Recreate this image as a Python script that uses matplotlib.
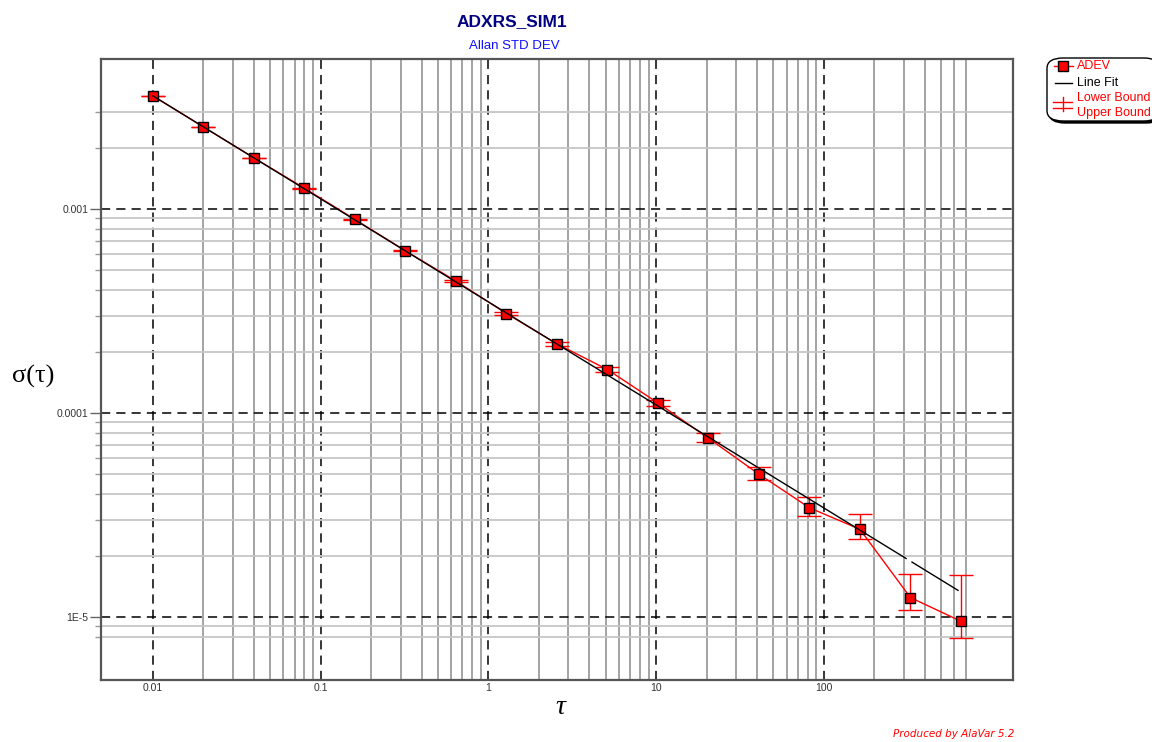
import numpy as np
import matplotlib
matplotlib.use("Agg")
import matplotlib.pyplot as plt
from matplotlib.patches import FancyBboxPatch
from matplotlib.lines import Line2D
from matplotlib.ticker import FixedLocator, NullFormatter

# Dados (ADEV com limites inferior / superior)
tau = [0.01, 0.02, 0.04, 0.08, 0.16, 0.32, 0.64, 1.28, 2.56, 5.12,
       10.24, 20.48, 40.96, 81.92, 163.84, 327.68, 655.36]
adev = [3.58e-3, 2.52e-3, 1.778e-3, 1.263e-3, 8.88e-4, 6.23e-4, 4.43e-4, 3.07e-4, 2.18e-4, 1.632e-4,
        1.119e-4, 7.52e-5, 5.01e-5, 3.43e-5, 2.69e-5, 1.245e-5, 9.53e-6]
lower_bound = [3.576e-3, 2.516e-3, 1.774e-3, 1.259e-3, 8.84e-4, 6.19e-4, 4.39e-4, 3.03e-4, 2.14e-4, 1.588e-4,
               1.086e-4, 7.21e-5, 4.70e-5, 3.14e-5, 2.41e-5, 1.08e-5, 7.87e-6]
upper_bound = [3.584e-3, 2.524e-3, 1.782e-3, 1.267e-3, 8.92e-4, 6.27e-4, 4.47e-4, 3.11e-4, 2.22e-4, 1.675e-4,
               1.153e-4, 7.98e-5, 5.46e-5, 3.87e-5, 3.21e-5, 1.63e-5, 1.607e-5]

# Reta ajustada: sigma = coef * tau^slope (com a falha que aparece no original)
fit_coef, fit_slope = 3.50e-4, -0.505
fit_tau = [0.01, 309, np.nan, 335, 630]

x_ticks = [0.01, 0.1, 1, 10, 100]
x_tick_labels = ["0.01", "0.1", "1", "10", "100"]
y_ticks = [1e-3, 1e-4, 1e-5]
y_tick_labels = ["0.001", "0.0001", "1E-5"]

W, H = 1152, 742


def px(x, y):
    # converte pixels (origem no topo) para coordenadas da figura
    return x / W, 1 - y / H


fig = plt.figure(figsize=(W / 100, H / 100), dpi=100)
ax = fig.add_axes([101 / W, 1 - 680 / H, (1013 - 101) / W, (680 - 59) / H])
ax.set_xscale("log")
ax.set_yscale("log")
ax.set_xlim(0.0049, 1340)
ax.set_ylim(4.91e-6, 5.43e-3)

# grade secundária só dentro da faixa dos dados
minor_x = [m * 10.0 ** e for e in range(-3, 4) for m in range(2, 10)]
minor_x = [v for v in minor_x if 0.015 < v < 750]
minor_y = [m * 10.0 ** e for e in range(-7, -1) for m in range(2, 10)]
minor_y = [v for v in minor_y if 7.5e-6 < v < 3.5e-3]

ax.set_xticks(x_ticks, x_tick_labels)
ax.set_yticks(y_ticks, y_tick_labels)
ax.xaxis.set_minor_locator(FixedLocator(minor_x))
ax.yaxis.set_minor_locator(FixedLocator(minor_y))
ax.xaxis.set_minor_formatter(NullFormatter())
ax.yaxis.set_minor_formatter(NullFormatter())

ax.grid(which="minor", axis="x", color="#9c9c9c", lw=1.3, ls="-")
ax.grid(which="minor", axis="y", color="#c6c6c6", lw=1.3, ls="-")
ax.grid(which="major", color="black", lw=1.1, ls=(0, (6, 4)))
ax.set_axisbelow(True)

ax.tick_params(axis="x", which="both", length=0, pad=2, labelsize=7.5, labelcolor="#333333")
ax.tick_params(axis="y", which="major", length=8, width=1, color="#666666", pad=1,
               labelsize=7.5, labelcolor="#333333")
ax.tick_params(axis="y", which="minor", length=4, width=1, color="#999999")
for lab in ax.get_xticklabels() + ax.get_yticklabels():
    lab.set_fontfamily("Liberation Sans")

for s in ax.spines.values():
    s.set_color("#555555")
    s.set_linewidth(1.6)

adev_a = np.array(adev)
yerr = [adev_a - np.array(lower_bound), np.array(upper_bound) - adev_a]
ax.errorbar(tau, adev, yerr=yerr, fmt="s-", color="red", ecolor="red", lw=1,
            elinewidth=1, capsize=8.5, capthick=1, ms=6.5, mfc="red", mec="black", mew=1, zorder=3)

ft = np.array(fit_tau)
ax.plot(ft, fit_coef * ft ** fit_slope, color="black", lw=1, zorder=4)

# títulos
fig.text(*px(512, 22), "ADXRS_SIM1", ha="center", va="center", fontsize=12.5,
         fontweight="bold", color="#000080", family="Liberation Sans")
fig.text(*px(514, 46), "Allan STD DEV", ha="center", va="center", fontsize=9.5,
         color="#1010ff", family="Liberation Sans")
fig.text(*px(33, 376), "σ(τ)", ha="center", va="center", fontsize=19, family="Liberation Serif")
fig.text(*px(560, 707), "τ", ha="center", va="center", fontsize=20, style="italic",
         family="Liberation Serif")
fig.text(*px(1014, 734), "Produced by AlaVar 5.2", ha="right", va="center", fontsize=7.5,
         style="italic", color="red", family="DejaVu Sans")

# legenda desenhada à mão (caixa arredondada com sombra)
x0, y0 = px(1047, 121)
bw, bh = (1160 - 1047) / W, (121 - 58) / H
shadow = FancyBboxPatch((x0 + 2 / W, y0 - 2 / H), bw, bh, boxstyle="round,pad=0,rounding_size=0.014",
                        transform=fig.transFigure, fc="black", ec="black", lw=1, clip_on=False)
box = FancyBboxPatch((x0, y0), bw, bh, boxstyle="round,pad=0,rounding_size=0.014",
                     transform=fig.transFigure, fc="white", ec="black", lw=1, clip_on=False)
fig.patches.extend([shadow, box])

leg_font = dict(fontsize=9, family="Liberation Sans", va="center", ha="left")
fig.lines.append(Line2D([1054 / W, 1073 / W], [px(0, 66)[1]] * 2, color="red", lw=1,
                        transform=fig.transFigure))
fig.lines.append(Line2D([1063 / W], [px(0, 66)[1]], marker="s", ms=6.5, mfc="red", mec="black",
                        mew=1, transform=fig.transFigure))
fig.text(*px(1077, 66), "ADEV", color="red", **leg_font)
fig.lines.append(Line2D([1055 / W, 1072 / W], [px(0, 83)[1]] * 2, color="black", lw=1,
                        transform=fig.transFigure))
fig.text(*px(1077, 83), "Line Fit", color="black", **leg_font)
fig.lines.append(Line2D([1053 / W, 1072 / W], [px(0, 101.5)[1]] * 2, color="red", lw=1,
                        transform=fig.transFigure))
fig.lines.append(Line2D([1053 / W, 1072 / W], [px(0, 107.5)[1]] * 2, color="red", lw=1,
                        transform=fig.transFigure))
fig.lines.append(Line2D([1062.5 / W] * 2, [px(0, 96.5)[1], px(0, 111)[1]], color="red", lw=1,
                        transform=fig.transFigure))
fig.text(*px(1077, 98), "Lower Bound", color="red", **leg_font)
fig.text(*px(1077, 113), "Upper Bound", color="red", **leg_font)

fig.savefig("out.png", dpi=100)
